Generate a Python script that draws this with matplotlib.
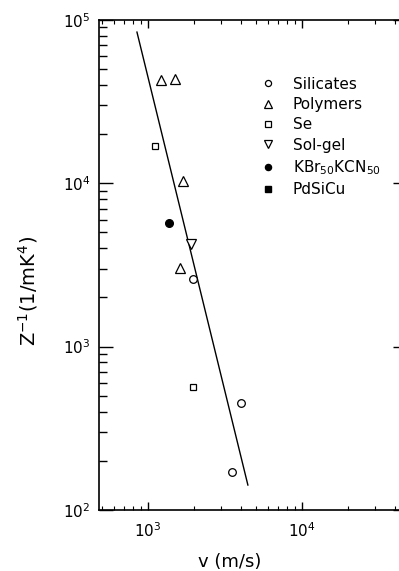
import matplotlib.pyplot as plt
from matplotlib.ticker import LogLocator, NullFormatter

# data: v (m/s), Z^-1 (1/mK^4)
silicates_v = [1958, 4020, 3510]
silicates_z = [2580, 453, 171]
polymers_v = [1214, 1496, 1687, 1615]
polymers_z = [42800, 43500, 10400, 3050]
se_v = [1110, 1958]
se_z = [16900, 569]
solgel_v = [1901]
solgel_z = [4230]
kbr_v = [1369]
kbr_z = [5690]
pdsicu_v = []
pdsicu_z = []
fit_v = [849, 4458]
fit_z = [84300, 142]

fig = plt.figure(figsize=(3.99, 5.71), dpi=100)
ax = fig.add_axes([0.248, 0.107, 0.772, 0.858])

ax.plot(fit_v, fit_z, color='black', lw=1.0)
ms = 5.5
ax.plot(silicates_v, silicates_z, 'o', mfc='white', mec='black', ms=ms, mew=0.9, label='Silicates')
ax.plot(polymers_v, polymers_z, '^', mfc='white', mec='black', ms=ms + 1, mew=0.9, label='Polymers')
ax.plot(se_v, se_z, 's', mfc='white', mec='black', ms=ms - 0.5, mew=0.9, label='Se')
ax.plot(solgel_v, solgel_z, 'v', mfc='white', mec='black', ms=ms + 1.5, mew=0.9, label='Sol-gel')
ax.plot(kbr_v, kbr_z, 'o', color='black', ms=ms, label=r'KBr$_{50}$KCN$_{50}$')
ax.plot(pdsicu_v, pdsicu_z, 's', color='black', ms=ms - 0.5, label='PdSiCu')

ax.set_xscale('log')
ax.set_yscale('log')
ax.set_xlim(481, 48100)
ax.set_ylim(100, 1e5)

ax.xaxis.set_major_locator(LogLocator(base=10, numticks=10))
ax.xaxis.set_minor_locator(LogLocator(base=10, subs=range(2, 10), numticks=20))
ax.yaxis.set_major_locator(LogLocator(base=10, numticks=10))
ax.yaxis.set_minor_locator(LogLocator(base=10, subs=range(2, 10), numticks=20))
ax.xaxis.set_minor_formatter(NullFormatter())
ax.yaxis.set_minor_formatter(NullFormatter())

ax.tick_params(axis='x', which='major', direction='in', length=6, width=1, top=True, labelsize=11, pad=8)
ax.tick_params(axis='x', which='minor', direction='in', length=3, width=0.8, top=True)
ax.tick_params(axis='y', which='major', direction='in', length=10, width=1, right=True, labelsize=11, pad=6)
ax.tick_params(axis='y', which='minor', direction='in', length=6, width=1, right=True)
for s in ax.spines.values():
    s.set_linewidth(1.2)

ax.set_xlabel('v (m/s)', fontsize=13)
ax.xaxis.set_label_coords(0.425, -0.088)
ax.set_ylabel(r'Z$^{-1}$(1/mK$^{4}$)', fontsize=14)
ax.yaxis.set_label_coords(-0.19, 0.447)

leg = ax.legend(loc='upper left', bbox_to_anchor=(0.505, 0.9), frameon=False, fontsize=11,
                handlelength=0.8, handletextpad=1.2, labelspacing=0.35, borderpad=0,
                markerscale=0.8)

fig.savefig('out.png', dpi=100)
